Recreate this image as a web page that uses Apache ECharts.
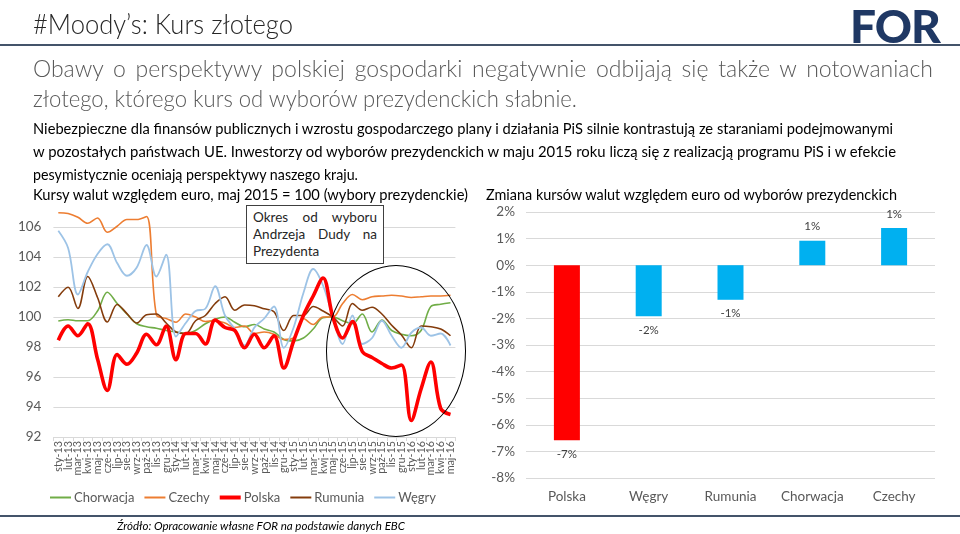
<!DOCTYPE html>
<html>
<head>
<meta charset="utf-8">
<script src="https://cdn.jsdelivr.net/npm/echarts@6/dist/echarts.min.js"></script>
<style>
  html, body { margin:0; padding:0; background:#fff; }
  body { width:960px; height:534px; position:relative; overflow:hidden; font-family: Lato, 'Noto Sans', sans-serif; }
  #chart { position:absolute; left:0; top:0; width:960px; height:534px; }
  .t { position:absolute; white-space:nowrap; transform-origin:0 0; z-index:5; }
  .hr { position:absolute; left:0; width:960px; background:#44546A; z-index:5; }
  #note { position:absolute; left:246px; top:205px; width:124px; padding:3px 6px; border:1px solid #404040; background:#fff; font-size:13.5px; line-height:17px; color:#262626; z-index:6; }
  #note .j { text-align:justify; text-align-last:justify; }
  #ell { position:absolute; border:1.6px solid #000; border-radius:50%; z-index:6; box-sizing:border-box; }
</style>
</head>
<body>
<div id="chart"></div>

<div class="t" data-w="260" style="left:33px;top:7px;font-size:27px;color:#262626;font-weight:300;">#Moody’s: Kurs złotego</div>
<div class="hr" style="top:44px;height:2px;"></div>
<div class="t" style="left:850px;top:-2px;font-size:46px;font-weight:900;color:#1F3864;letter-spacing:-1px;">FOR</div>

<div class="t" style="left:33px;top:54px;width:900px;font-size:23px;color:#595959;font-weight:300;text-align:justify;text-align-last:justify;white-space:normal;">Obawy o perspektywy polskiej gospodarki negatywnie odbijają się także w notowaniach</div>
<div class="t" data-w="544" style="left:33px;top:84px;font-size:23px;color:#595959;font-weight:300;">złotego, którego kurs od wyborów prezydenckich słabnie.</div>

<div class="t" data-w="860" style="left:33px;top:119px;font-size:15px;color:#000;">Niebezpieczne dla finansów publicznych i wzrostu gospodarczego plany i działania PiS silnie kontrastują ze staraniami podejmowanymi</div>
<div class="t" data-w="863" style="left:33px;top:142px;font-size:15px;color:#000;">w pozostałych państwach UE. Inwestorzy od wyborów prezydenckich w maju 2015 roku liczą się z realizacją programu PiS i w efekcie</div>
<div class="t" data-w="325" style="left:33px;top:165px;font-size:15px;color:#000;">pesymistycznie oceniają perspektywy naszego kraju.</div>

<div class="t" data-w="435" style="left:33px;top:185px;font-size:15px;color:#000;">Kursy walut względem euro, maj 2015 = 100 (wybory prezydenckie)</div>
<div class="t" data-w="411" style="left:486px;top:185px;font-size:15px;color:#000;">Zmiana kursów walut względem euro od wyborów prezydenckich</div>

<div id="note"><div class="j">Okres od wyboru</div><div class="j">Andrzeja Dudy na</div><div>Prezydenta</div></div>
<div id="ell"></div>

<div class="hr" style="top:515px;height:1.5px;"></div>
<div class="t" data-w="288" style="left:117px;top:519px;font-size:11.5px;font-style:italic;color:#000;">Źródło: Opracowanie własne FOR na podstawie danych EBC</div>

<script>
// ---- data ----
const months = ['sty-13','lut-13','mar-13','kwi-13','maj-13','cze-13','lip-13','sie-13','wrz-13','paź-13','lis-13','gru-13',
  'sty-14','lut-14','mar-14','kwi-14','maj-14','cze-14','lip-14','sie-14','wrz-14','paź-14','lis-14','gru-14',
  'sty-15','lut-15','mar-15','kwi-15','maj-15','cze-15','lip-15','sie-15','wrz-15','paź-15','lis-15','gru-15',
  'sty-16','lut-16','mar-16','kwi-16','maj-16'];
const chorwacja = [99.73,99.82,99.75,99.75,100.4,101.65,100.9,100.2,99.55,99.35,99.25,99.1,99.0,98.9,99.1,99.55,99.85,100.0,99.65,99.35,99.5,99.2,99.0,98.5,98.4,98.6,99.2,99.95,100,99.75,99.55,100.2,99.0,99.8,99.1,98.85,98.75,99.1,100.7,100.85,100.95];
const czechy = [106.95,106.9,106.65,106.25,106.6,105.65,106.05,106.5,106.5,106.7,100.15,99.9,99.65,100.2,100.0,99.7,99.75,99.6,99.3,99.4,98.9,99.0,98.85,98.5,98.6,99.9,99.5,100.0,100,100.9,101.5,101.15,101.35,101.4,101.45,101.4,101.3,101.35,101.4,101.4,101.45];
const polska = [98.45,99.4,98.75,99.55,97.2,95.1,97.5,96.85,97.6,98.85,98.15,99.4,97.15,98.9,98.9,98.2,99.8,99.3,99.1,97.95,98.85,97.95,98.75,96.6,98.4,100.1,101.4,102.6,100,98.6,99.7,97.7,97.3,96.9,96.6,96.8,93.1,95.2,97.0,93.9,93.5];
const rumunia = [101.35,101.98,100.57,102.7,101.3,99.67,100.83,100.23,99.6,100.15,100.2,99.6,99.0,98.9,99.75,100.1,100.9,101.35,100.45,100.8,100.75,100.55,100.35,99.1,100.1,100.1,100.7,100.4,100,99.4,100.9,100.45,100.65,100.2,99.45,98.8,97.95,99.4,99.35,99.2,98.75];
const wegry = [105.75,104.6,101.5,103.0,104.2,104.85,103.6,102.75,103.3,104.8,102.7,104.15,98.7,99.6,100.4,100.55,102.05,100.1,99.2,98.1,99.3,99.9,100.7,97.95,99.3,101.6,103.2,102.1,100,98.2,100.1,98.2,98.6,99.75,98.75,97.95,98.95,99.3,98.75,98.9,98.1];
const yTicksLeft = [92,94,96,98,100,102,104,106];

const barCats = ['Polska','Węgry','Rumunia','Chorwacja','Czechy'];
const barVals = [-6.58,-1.92,-1.3,0.92,1.4];
const yTicksRight = [-8,-7,-6,-5,-4,-3,-2,-1,0,1,2];

// ---- fit text widths ----
document.querySelectorAll('.t[data-w]').forEach(el => {
  const target = +el.dataset.w;
  const w = el.getBoundingClientRect().width;
  if (w > 0) el.style.transform = 'scaleX(' + (target / w) + ')';
});

const FONT = 'Lato, "Noto Sans", sans-serif';
const GRAY = '#595959';
const GRID = '#D9D9D9';
const THIN = 'path://M0 0H21V2H0Z';
const THICK = 'path://M0 0H21V4H0Z';

function lineSeries(name, data, color, width) {
  return { name, type:'line', data, xAxisIndex:0, yAxisIndex:0, smooth:0.35, symbol:'none', showSymbol:false,
    lineStyle:{ color, width }, itemStyle:{ color }, emphasis:{ disabled:true } };
}

const chart = echarts.init(document.getElementById('chart'), null, { renderer:'canvas' });
chart.setOption({
  animation:false,
  textStyle:{ fontFamily: FONT },
  grid:[
    { left:53.4, top:209, width:402, height:228 },
    { left:526, top:212, width:409, height:266 }
  ],
  xAxis:[
    { type:'category', gridIndex:0, data:months, boundaryGap:true,
      axisLine:{ lineStyle:{ color:GRID } }, axisTick:{ show:true, interval:0, length:4, lineStyle:{ color:GRID } },
      axisLabel:{ interval:0, rotate:90, fontSize:10.8, color:GRAY, margin:4, fontFamily:FONT } },
    { type:'category', gridIndex:1, data:barCats, boundaryGap:true,
      axisLine:{ show:false }, axisTick:{ show:false },
      axisLabel:{ fontSize:13.5, color:GRAY, margin:12, fontFamily:FONT } }
  ],
  yAxis:[
    { type:'value', gridIndex:0, min:92, max:107.2, interval:2,
      axisLine:{ show:false }, axisTick:{ show:false },
      axisLabel:{ fontSize:13.5, color:GRAY, margin:12, showMaxLabel:false, fontFamily:FONT,
        formatter: v => yTicksLeft.includes(v) ? String(v) : '' },
      splitLine:{ lineStyle:{ color:GRID, width:1 }, showMaxLine:false } },
    { type:'value', gridIndex:1, min:-8, max:2, interval:1,
      axisLine:{ show:false }, axisTick:{ show:false },
      axisLabel:{ fontSize:13.5, color:GRAY, margin:11, fontFamily:FONT,
        formatter: v => yTicksRight.includes(v) ? v + '%' : '' },
      splitLine:{ lineStyle:{ color:GRID, width:1 } } }
  ],
  legend:{
    data:[
      { name:'Chorwacja', icon:THIN },
      { name:'Czechy', icon:THIN },
      { name:'Polska', icon:THICK },
      { name:'Rumunia', icon:THIN },
      { name:'Węgry', icon:THIN }
    ],
    left:45, top:486, itemWidth:21, itemHeight:14, itemGap:10,
    textStyle:{ fontSize:13, color:GRAY, fontFamily:FONT, padding:[0,0,0,-2] } },
  series:[
    lineSeries('Chorwacja', chorwacja, '#70AD47', 1.6),
    lineSeries('Czechy', czechy, '#ED7D31', 1.6),
    lineSeries('Rumunia', rumunia, '#843C0C', 1.6),
    lineSeries('Węgry', wegry, '#9DC3E6', 1.8),
    lineSeries('Polska', polska, '#FF0000', 3.6),
    { type:'bar', name:'Zmiana', xAxisIndex:1, yAxisIndex:1, barWidth:26,
      data: barVals.map((v, i) => ({ value:v, itemStyle:{ color: i === 0 ? '#FF0000' : '#00B0F0' } })),
      label:{ show:true, position:'outside', distance:8, fontSize:11.5, color:'#404040', fontFamily:FONT,
        formatter: p => Math.round(p.value) + '%' } }
  ]
});

// ellipse around the post-election period, placed via the axes
const lt = chart.convertToPixel({ gridIndex:0 }, [28, 103.5]);
const rb = chart.convertToPixel({ gridIndex:0 }, [40, 92]);
const ell = document.getElementById('ell');
const L = lt[0] - 7, R = rb[0] + 16, T = lt[1], B = rb[1];
ell.style.left = L + 'px'; ell.style.top = T + 'px';
ell.style.width = (R - L) + 'px'; ell.style.height = (B - T) + 'px';
</script>
</body>
</html>
